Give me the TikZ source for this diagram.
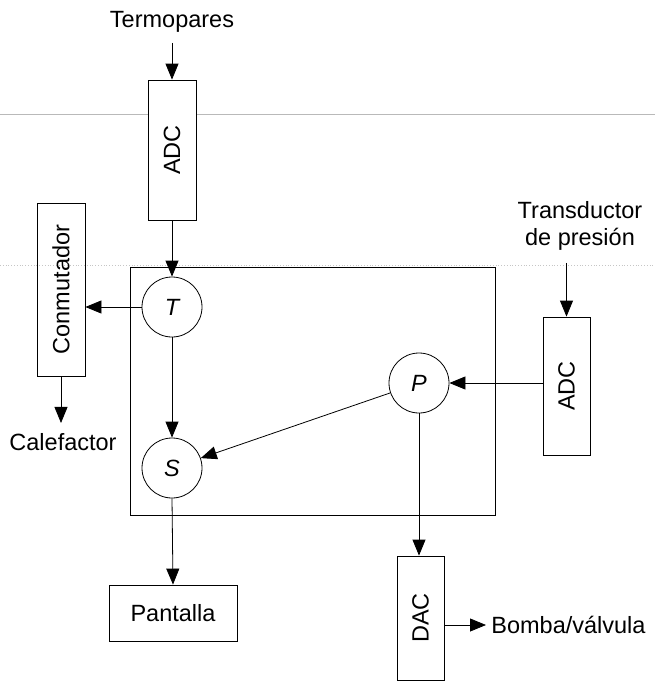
\documentclass[tikz,border=0pt]{standalone}
\usepackage{fontspec}
\setmainfont{Liberation Sans}
\usepackage{graphicx}
\usetikzlibrary{arrows.meta}
\begin{document}
\begin{tikzpicture}[x=1pt,y=-1pt,line width=0.8pt,
  font=\fontsize{23.5}{27}\selectfont,
  >={Triangle[length=16pt,width=13pt]},
  blk/.style={draw,inner sep=0pt},
  proc/.style={draw,circle,minimum size=60pt,inner sep=0pt,font=\fontsize{23.5}{27}\selectfont\itshape},
  lbl/.style={inner sep=0pt}]
  \useasboundingbox (0,0) rectangle (655,681);
  \draw[gray!55,line width=1pt] (0,114) -- (655,114);
  \draw[gray!45,dotted] (0,265) -- (655,265);
  \node[blk,minimum width=365pt,minimum height=248pt] (cpu) at (312.5,391) {};
  \node[lbl] (termo) at (172,22) {Termopares};
  \node[blk,fill=white,minimum width=48pt,minimum height=140pt] (adct) at (172,150) {\rotatebox{90}{ADC}};
  \node[proc] (t) at (172,307) {T};
  \node[proc] (s) at (172,468) {S};
  \node[proc] (p) at (419,383) {P};
  \node[blk,minimum width=48pt,minimum height=173pt] (conm) at (61,289.5) {\rotatebox{90}{Conmutador}};
  \node[lbl] (calef) at (63,442) {Calefactor};
  \node[lbl,align=center] (trans) at (580,226) {Transductor\\de presión};
  \node[blk,minimum width=47pt,minimum height=138pt] (adcp) at (566.5,386) {\rotatebox{90}{ADC}};
  \node[blk,minimum width=128pt,minimum height=56pt] (pant) at (173,613) {Pantalla};
  \node[blk,minimum width=47pt,minimum height=124pt] (dac) at (420.5,618) {\rotatebox{90}{DAC}};
  \node[lbl,anchor=west] (bomba) at (491,625) {Bomba/válvula};
  \draw[->] (termo.south) ++(0,10) -- (adct.north);
  \draw[->] (adct.south) -- (t.north);
  \draw[->] (t.west) -- (conm.east |- t.west);
  \draw[->] (conm.south) -- ([yshift=10pt]conm.south |- calef.north);
  \draw[->] (t.south) -- (s.north);
  \draw[->] (p) -- (s);
  \draw[->] ([yshift=-12pt]trans.south -| adcp.north) -- (adcp.north);
  \draw[->] (adcp.west |- p.east) -- (p.east);
  \draw[->] (p.south) -- (p.south |- dac.north);
  \draw[->] (s.south) -- (pant.north);
  \draw[->] (dac.east |- bomba.west) -- ([xshift=-5pt]bomba.west);
\end{tikzpicture}
\end{document}
